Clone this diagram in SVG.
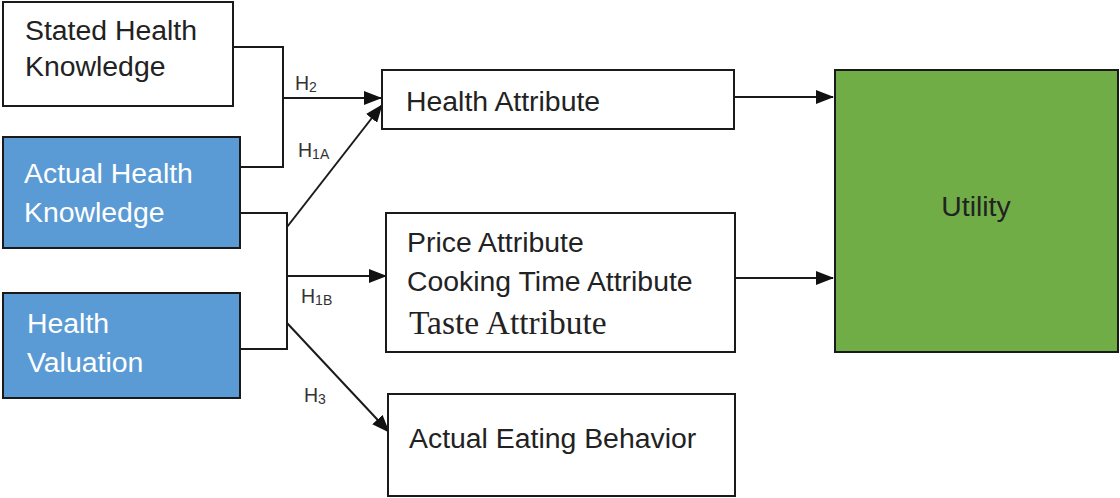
<svg xmlns="http://www.w3.org/2000/svg" width="1120" height="498" viewBox="0 0 1120 498">
<style>
.box{stroke:#1a1a1a;stroke-width:2}
.w{fill:#ffffff}
.b{fill:#5b9bd5}
.g{fill:#70ad47}
.t{font-family:"Liberation Sans",Arial,sans-serif;font-size:28.4px;fill:#222}
.tw{font-family:"Liberation Sans",Arial,sans-serif;font-size:28.4px;fill:#ffffff}
.ts{font-family:"Liberation Serif","Times New Roman",serif;font-size:33.5px;fill:#222}
.h{font-family:"Liberation Sans",Arial,sans-serif;font-size:19.5px;fill:#333}
.sub{font-size:14px}
.c{fill:none;stroke:#1a1a1a;stroke-width:2}
</style>
<defs>
<marker id="ar" viewBox="0 0 18 14" refX="17" refY="7" markerWidth="18" markerHeight="14" markerUnits="userSpaceOnUse" orient="auto">
<path d="M0,0 L18,7 L0,14 Z" fill="#111"/>
</marker>
</defs>
<rect width="1120" height="498" fill="#ffffff"/>
<g id="connectors">
<polyline class="c" points="233,47 283,47 283,167 240,167"/>
<line class="c" x1="283" y1="98" x2="381" y2="98" marker-end="url(#ar)"/>
<polyline class="c" points="240,213 287,213 287,349 240,349"/>
<line class="c" x1="287" y1="227" x2="382" y2="105" marker-end="url(#ar)"/>
<line class="c" x1="287" y1="276" x2="386" y2="276" marker-end="url(#ar)"/>
<line class="c" x1="287" y1="323" x2="389" y2="432" marker-end="url(#ar)"/>
<line class="c" x1="734" y1="97" x2="833" y2="97" marker-end="url(#ar)"/>
<line class="c" x1="735" y1="278" x2="833" y2="278" marker-end="url(#ar)"/>
<text class="h" x="295" y="90">H<tspan class="sub" dy="2">2</tspan></text>
<text class="h" x="298" y="157">H<tspan class="sub" dy="2">1A</tspan></text>
<text class="h" x="301" y="303">H<tspan class="sub" dy="2">1B</tspan></text>
<text class="h" x="304" y="402">H<tspan class="sub" dy="2">3</tspan></text>
</g>
<g id="stated">
<rect class="box w" x="3" y="2" width="230" height="104"/>
<text class="t" x="25" y="40">Stated Health</text>
<text class="t" x="25" y="76">Knowledge</text>
</g>
<g id="actual">
<rect class="box b" x="3" y="137" width="237" height="111"/>
<text class="tw" x="24" y="183">Actual Health</text>
<text class="tw" x="24" y="222">Knowledge</text>
</g>
<g id="valuation">
<rect class="box b" x="3" y="293" width="237" height="105"/>
<text class="tw" x="27" y="333">Health</text>
<text class="tw" x="27" y="372">Valuation</text>
</g>
<g id="health-attr">
<rect class="box w" x="382" y="70" width="352" height="59"/>
<text class="t" x="406" y="111">Health Attribute</text>
</g>
<g id="other-attr">
<rect class="box w" x="386" y="213" width="349" height="139"/>
<text class="t" x="407" y="252">Price Attribute</text>
<text class="t" x="407" y="291">Cooking Time Attribute</text>
<text class="ts" x="409" y="334">Taste Attribute</text>
</g>
<g id="eating">
<rect class="box w" x="388" y="394" width="347" height="102"/>
<text class="t" x="409" y="448">Actual Eating Behavior</text>
</g>
<g id="utility">
<rect class="box g" x="835" y="70" width="283" height="282"/>
<text class="t" x="976" y="216" text-anchor="middle">Utility</text>
</g>
</svg>
